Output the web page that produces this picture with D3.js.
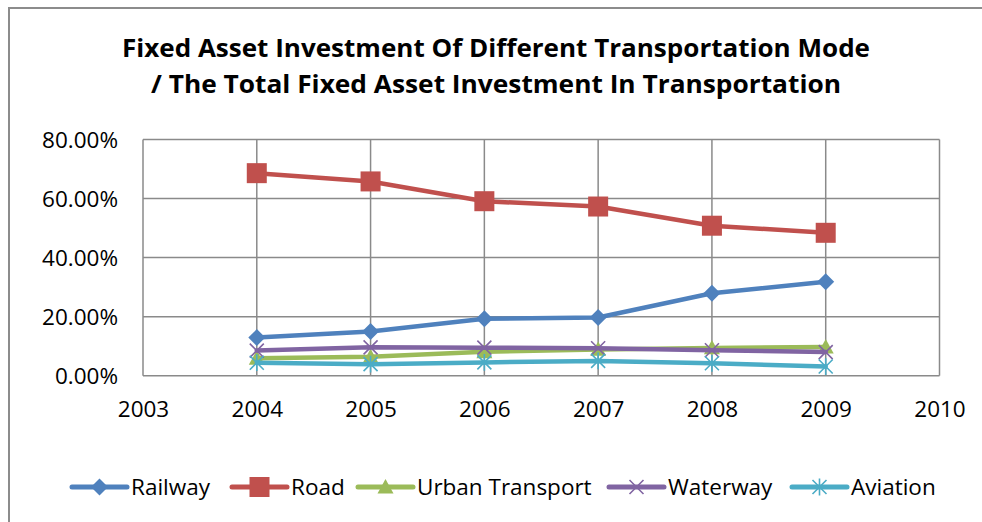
<!DOCTYPE html>
<html><head><meta charset="utf-8">
<script src="https://cdn.jsdelivr.net/npm/d3@7"></script>
<style>body{margin:0;background:#fff}svg{display:block}text{font-family:"Open Sans",sans-serif}</style>
</head><body><svg id="c" width="982" height="522"></svg>
<script>
const years = [2004, 2005, 2006, 2007, 2008, 2009];
const railway = [12.9, 15.0, 19.3, 19.7, 27.9, 31.8];
const road = [68.6, 65.8, 59.1, 57.3, 50.8, 48.4];
const urban = [5.9, 6.4, 8.1, 8.9, 9.4, 9.7];
const waterway = [8.5, 9.6, 9.5, 9.3, 8.6, 8.0];
const aviation = [4.4, 3.9, 4.5, 5.0, 4.2, 3.1];
const seriesNames = ["Railway", "Road", "Urban Transport", "Waterway", "Aviation"];
const yTicks = [0, 20, 40, 60, 80];
const xTicks = [2003, 2004, 2005, 2006, 2007, 2008, 2009, 2010];
const titleLines = ["Fixed Asset Investment Of Different Transportation Mode", "/ The Total Fixed Asset Investment In Transportation"];

const colors = ["#4F81BD", "#C0504D", "#9BBB59", "#8064A2", "#4BACC6"];
const markers = ["diamond", "square", "triangle", "x", "star"];
const data = [railway, road, urban, waterway, aviation];

const svg = d3.select("#c");
svg.append("path").attr("d", "M9,530V8H995").attr("fill", "none").attr("stroke", "#8c8c8c").attr("stroke-width", 2);

const x = d3.scaleLinear().domain([2003, 2010]).range([143, 939.5]);
const y = d3.scaleLinear().domain([0, 80]).range([375.7, 139.5]);

const tw = [748, 690];
titleLines.forEach((t, i) => {
  svg.append("text").attr("x", 496).attr("y", 57 + i * 36).attr("text-anchor", "middle")
    .attr("font-size", 25.5).attr("font-weight", "bold").attr("fill", "#000")
    .attr("textLength", tw[i]).attr("lengthAdjust", "spacingAndGlyphs").text(t);
});

const g = svg.append("g");
g.selectAll(".hg").data(yTicks).join("line").attr("x1", x(2003)).attr("x2", x(2010))
  .attr("y1", d => y(d)).attr("y2", d => y(d)).attr("stroke", "#8a8a8a").attr("stroke-width", 1.5);
g.selectAll(".vg").data(xTicks).join("line").attr("x1", d => x(d)).attr("x2", d => x(d))
  .attr("y1", y(0)).attr("y2", y(80)).attr("stroke", "#8a8a8a").attr("stroke-width", 1.5);

const fs = 22.5;
const yAxis = d3.axisLeft(y).tickValues(yTicks).tickSize(0).tickPadding(0).tickFormat(d => d.toFixed(2) + "%");
const ya = svg.append("g").attr("transform", "translate(118,0)").call(yAxis);
ya.select(".domain").remove();
ya.selectAll("text").attr("font-size", fs).attr("fill", "#000").attr("font-family", "Open Sans").attr("dy", "0.35em");

const xAxis = d3.axisBottom(x).tickValues(xTicks).tickSize(0).tickPadding(0).tickFormat(d3.format("d"));
const xa = svg.append("g").attr("transform", "translate(0,401)").call(xAxis);
xa.select(".domain").remove();
xa.selectAll("text").attr("font-size", fs).attr("fill", "#000").attr("font-family", "Open Sans").attr("dy", "0.71em");

function drawMarker(sel, type, color, s) {
  if (type === "diamond") sel.append("path").attr("d", `M0,${-s}L${s},0L0,${s}L${-s},0Z`).attr("fill", color);
  else if (type === "square") sel.append("rect").attr("x", -s).attr("y", -s).attr("width", 2 * s).attr("height", 2 * s).attr("fill", color);
  else if (type === "triangle") sel.append("path").attr("d", `M0,${-s}L${s},${s * 0.8}L${-s},${s * 0.8}Z`).attr("fill", color);
  else if (type === "x") sel.append("path").attr("d", `M${-s},${-s}L${s},${s}M${s},${-s}L${-s},${s}`).attr("stroke", color).attr("stroke-width", 1.6);
  else if (type === "star") sel.append("path").attr("d", `M${-s},${-s}L${s},${s}M${s},${-s}L${-s},${s}M0,${-s * 1.2}L0,${s * 1.2}`).attr("stroke", color).attr("stroke-width", 1.6);
}
const msize = [8.5, 10, 8, 7, 7];

const line = d3.line().x((d, i) => x(years[i])).y(d => y(d));
data.forEach((vals, k) => {
  svg.append("path").datum(vals).attr("d", line).attr("fill", "none").attr("stroke", colors[k])
    .attr("stroke-width", 4.5).attr("stroke-linejoin", "round").attr("stroke-linecap", "round");
  vals.forEach((v, i) => {
    const m = svg.append("g").attr("transform", `translate(${x(years[i])},${y(v)})`);
    drawMarker(m, markers[k], colors[k], msize[k]);
  });
});

const legX = [72, 232, 358, 609, 792];
seriesNames.forEach((n, k) => {
  const lg = svg.append("g").attr("transform", `translate(${legX[k]},487)`);
  lg.append("line").attr("x1", 0).attr("x2", 55).attr("stroke", colors[k]).attr("stroke-width", 5).attr("stroke-linecap", "round");
  const m = lg.append("g").attr("transform", "translate(27.5,0)");
  drawMarker(m, markers[k], colors[k], msize[k]);
  lg.append("text").attr("x", 59).attr("y", 0).attr("dy", "0.35em").attr("font-size", fs).attr("fill", "#000").text(n);
});
</script></body></html>
